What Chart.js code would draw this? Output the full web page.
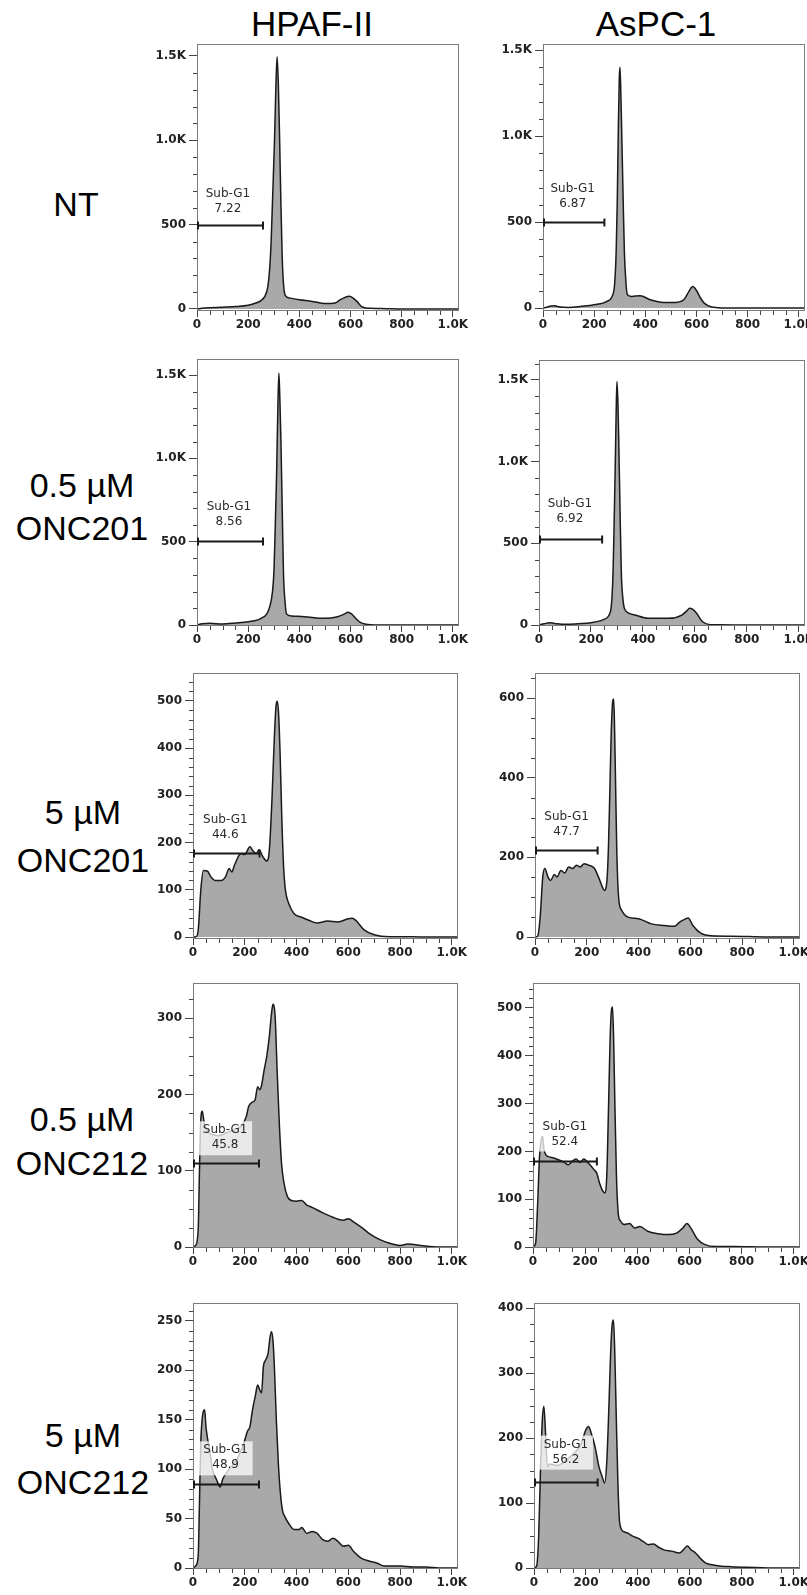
<!DOCTYPE html>
<html>
<head>
<meta charset="utf-8">
<script src="https://cdn.jsdelivr.net/npm/chart.js@4.4.1/dist/chart.umd.min.js"></script>
<style>
  body { margin: 0; background: #fff; }
  #page { position: relative; width: 807px; height: 1595px; overflow: hidden; background: #fff; }
  .head, .row { position: absolute; font-family: "Liberation Sans", Arial, sans-serif; color: #000; line-height: 1; white-space: nowrap; transform: translateX(-50%); }
  .head { font-size: 35px; }
  .row { font-size: 34px; }
  canvas { position: absolute; }
</style>
</head>
<body>
<div id="page">
  <div class="head" style="left:312px; top:6px;">HPAF-II</div>
  <div class="head" style="left:656px; top:6px;">AsPC-1</div>

  <div class="row" style="left:76px; top:187px;">NT</div>
  <div class="row" style="left:82px; top:468px;">0.5 µM</div>
  <div class="row" style="left:82px; top:511px;">ONC201</div>
  <div class="row" style="left:83px; top:795px;">5 µM</div>
  <div class="row" style="left:83px; top:843px;">ONC201</div>
  <div class="row" style="left:82px; top:1102px;">0.5 µM</div>
  <div class="row" style="left:82px; top:1146px;">ONC212</div>
  <div class="row" style="left:83px; top:1418px;">5 µM</div>
  <div class="row" style="left:83px; top:1465px;">ONC212</div>
</div>
<script>
// DNA content histograms (x = PI channel, y = count)
const HPAF_NT_X = [0, 20, 50, 100, 150, 200, 230, 250, 265, 277, 285, 290, 296, 303, 308, 313, 318, 323, 328, 333, 338, 345, 362, 400, 450, 500, 540, 560, 580, 596, 610, 625, 642, 660, 680, 720, 760, 800, 1024];
const HPAF_NT_Y = [0, 5, 8, 10, 14, 22, 35, 50, 75, 134, 260, 410, 680, 1000, 1300, 1496, 1330, 1000, 620, 310, 150, 80, 65, 55, 45, 32, 36, 55, 70, 75, 65, 45, 16, 6, 4, 3, 1, 0, 0];

const ASPC_NT_X = [0, 15, 30, 45, 60, 100, 150, 200, 250, 270, 280, 286, 290, 294, 298, 301, 305, 309, 313, 318, 324, 330, 345, 360, 380, 420, 470, 520, 550, 570, 585, 600, 615, 630, 660, 700, 800, 900, 1024];
const ASPC_NT_Y = [0, 5, 12, 13, 8, 4, 10, 19, 39, 68, 140, 330, 600, 1000, 1330, 1400, 1200, 930, 650, 330, 150, 77, 68, 70, 71, 48, 33, 33, 48, 96, 125, 102, 60, 29, 6, 1, 0, 0, 0];

const HPAF_201_LO_X = [0, 20, 50, 100, 150, 200, 250, 280, 295, 301, 306, 311, 316, 320, 324, 328, 333, 338, 344, 350, 370, 420, 500, 550, 575, 590, 605, 620, 640, 660, 680, 740, 1024];
const HPAF_201_LO_Y = [0, 8, 10, 6, 12, 20, 40, 90, 200, 330, 600, 900, 1300, 1510, 1350, 1110, 700, 310, 140, 66, 54, 50, 40, 50, 65, 76, 65, 40, 14, 5, 2, 0, 0];

const ASPC_201_LO_X = [0, 20, 40, 60, 100, 150, 200, 250, 275, 281, 285, 289, 293, 297, 300, 304, 307, 312, 317, 323, 330, 350, 370, 420, 500, 550, 568, 580, 592, 605, 630, 660, 700, 800, 1024];
const ASPC_201_LO_Y = [0, 8, 14, 10, 4, 8, 14, 35, 82, 170, 316, 600, 930, 1300, 1490, 1350, 1130, 700, 316, 160, 96, 70, 61, 41, 41, 61, 85, 102, 95, 75, 20, 2, 1, 0, 0];

const HPAF_201_HI_X = [0, 10, 20, 30, 40, 55, 70, 85, 110, 125, 140, 150, 160, 185, 200, 220, 230, 245, 255, 270, 285, 295, 305, 315, 321, 326, 331, 337, 343, 350, 357, 370, 390, 420, 450, 480, 520, 560, 600, 615, 630, 660, 700, 760, 800, 900, 1024];
const HPAF_201_HI_Y = [0, 0, 14, 99, 141, 140, 127, 120, 120, 127, 145, 138, 152, 177, 175, 191, 184, 177, 185, 170, 161, 184, 290, 431, 490, 499, 470, 380, 255, 150, 100, 71, 50, 42, 35, 30, 34, 32, 39, 40, 35, 16, 5, 1, 1, 0, 0];

const ASPC_201_HI_X = [0, 10, 20, 30, 38, 50, 60, 75, 85, 100, 115, 130, 145, 160, 175, 190, 210, 230, 245, 260, 268, 278, 284, 289, 294, 298, 301, 304, 307, 311, 316, 323, 335, 360, 400, 450, 500, 540, 560, 580, 592, 610, 640, 680, 760, 900, 1024];
const ASPC_201_HI_Y = [0, 2, 50, 151, 172, 151, 142, 157, 151, 167, 161, 176, 172, 180, 176, 184, 180, 172, 151, 126, 117, 142, 230, 360, 500, 570, 595, 598, 540, 400, 218, 100, 67, 50, 46, 33, 29, 27, 38, 45, 48, 29, 10, 3, 2, 0, 0];

const HPAF_212_LO_X = [0, 10, 20, 25, 30, 36, 40, 45, 55, 70, 100, 130, 160, 190, 206, 215, 230, 240, 250, 258, 265, 275, 285, 295, 303, 309, 313, 318, 325, 333, 342, 352, 365, 380, 400, 420, 440, 460, 500, 540, 580, 600, 620, 650, 680, 720, 760, 800, 830, 880, 950, 1024];
const HPAF_212_LO_Y = [0, 2, 22, 100, 166, 178, 170, 160, 152, 148, 146, 150, 154, 160, 171, 184, 190, 193, 210, 206, 212, 232, 250, 276, 305, 318, 316, 298, 232, 166, 110, 83, 66, 61, 60, 61, 55, 52, 45, 39, 35, 37, 33, 26, 18, 10, 5, 2, 4, 2, 0, 0];

const ASPC_212_LO_X = [0, 10, 18, 25, 32, 37, 42, 50, 60, 80, 100, 120, 135, 150, 165, 180, 195, 210, 225, 235, 245, 255, 265, 275, 283, 290, 296, 301, 305, 309, 314, 320, 327, 335, 350, 370, 390, 410, 440, 480, 520, 550, 575, 590, 605, 630, 660, 700, 770, 900, 1024];
const ASPC_212_LO_Y = [0, 8, 92, 189, 225, 231, 205, 192, 189, 186, 182, 177, 172, 179, 184, 177, 184, 177, 168, 161, 154, 134, 120, 113, 150, 300, 440, 495, 502, 440, 300, 150, 70, 55, 47, 49, 40, 43, 33, 28, 26, 29, 40, 49, 40, 17, 5, 1, 1, 0, 0];

const HPAF_212_HI_X = [0, 10, 20, 25, 30, 38, 45, 50, 55, 65, 75, 90, 105, 115, 140, 170, 195, 210, 220, 230, 240, 250, 258, 265, 272, 280, 290, 298, 303, 309, 315, 322, 330, 338, 346, 355, 370, 390, 410, 420, 440, 460, 480, 500, 520, 540, 560, 580, 600, 620, 650, 680, 710, 740, 800, 850, 900, 950, 1024];
const HPAF_212_HI_Y = [0, 2, 12, 66, 126, 156, 160, 143, 133, 118, 100, 90, 82, 90, 100, 110, 125, 138, 143, 160, 173, 185, 180, 177, 204, 210, 217, 234, 239, 230, 200, 150, 105, 75, 58, 52, 45, 39, 39, 41, 35, 37, 35, 29, 27, 30, 27, 22, 23, 17, 10, 7, 5, 2, 2, 1, 1, 0, 0];

const ASPC_212_HI_X = [0, 10, 18, 25, 32, 38, 45, 52, 60, 90, 120, 150, 180, 200, 210, 220, 235, 250, 262, 272, 280, 288, 295, 301, 306, 311, 317, 323, 330, 345, 360, 380, 400, 420, 440, 460, 480, 500, 530, 560, 575, 590, 605, 620, 640, 660, 700, 760, 850, 940, 1024];
const ASPC_212_HI_Y = [0, 3, 49, 151, 228, 249, 203, 156, 160, 158, 165, 175, 190, 213, 218, 208, 187, 156, 141, 131, 162, 244, 331, 375, 382, 331, 228, 131, 69, 56, 54, 49, 46, 41, 36, 37, 32, 28, 26, 23, 28, 34, 28, 24, 15, 8, 4, 2, 1, 0, 0];

// panel order: row by row, HPAF-II then AsPC-1
const SERIES = [
  [HPAF_NT_X, HPAF_NT_Y], [ASPC_NT_X, ASPC_NT_Y],
  [HPAF_201_LO_X, HPAF_201_LO_Y], [ASPC_201_LO_X, ASPC_201_LO_Y],
  [HPAF_201_HI_X, HPAF_201_HI_Y], [ASPC_201_HI_X, ASPC_201_HI_Y],
  [HPAF_212_LO_X, HPAF_212_LO_Y], [ASPC_212_LO_X, ASPC_212_LO_Y],
  [HPAF_212_HI_X, HPAF_212_HI_Y], [ASPC_212_HI_X, ASPC_212_HI_Y]
];

// Sub-G1 gates
const SUBG1_PCT = ['7.22', '6.87', '8.56', '6.92', '44.6', '47.7', '45.8', '52.4', '48.9', '56.2'];
const GATE_Y = [497, 500, 504, 527, 179, 218, 110, 180, 85, 133];
const GATE_END = [258, 240, 258, 243, 257, 242, 255, 245, 255, 245];
const LABEL_X = [121, 116, 125, 119, 125, 122, 124, 122, 126, 123];
const LABEL_Y = [683, 691, 710, 739, 249, 301, 153, 252, 119, 190];

// axes
const Y_MIN = [-12, -17, -6, -6, -4, -5, -1.3, -2, -1, -1.5];
const Y_MAX = [1571, 1535, 1596, 1622, 559, 663, 346, 552, 268, 408];
const Y_STEP = [500, 500, 500, 500, 100, 200, 100, 100, 50, 100];
const Y_MINOR = [100, 100, 100, 100, 20, 50, 25, 20, 10, 25];
const X_TICKS = [0, 200, 400, 600, 800, 1000];
const X_MINOR = 50;
const X_MAX = 1024;

// plot frames on the page: left, top, right, bottom
const BOXES = [
  [197, 44, 459, 311], [543, 44, 805, 311],
  [197, 359, 459, 626], [539, 360, 805, 626],
  [193, 673, 458, 939], [535, 673, 800, 939],
  [193, 983, 458, 1248], [533, 983, 800, 1248],
  [193, 1303, 458, 1569], [534, 1303, 800, 1569]
];

const Y_AXIS_W = 60, X_AXIS_H = 28, PAD_TOP = 12, PAD_RIGHT = 22;
const tickFont = { family: 'DejaVu Sans', size: 12, weight: 'bold' };
const fmt = v => v >= 1000 ? (v / 1000).toFixed(1) + 'K' : String(v);

const facsPlugin = {
  id: 'facs',
  afterDatasetsDraw(chart, args, opts) {
    const { ctx, chartArea: a, scales: { x, y } } = chart;
    ctx.save();
    // minor ticks
    ctx.strokeStyle = '#444';
    ctx.lineWidth = 1;
    ctx.beginPath();
    for (let v = 0; v <= 1000; v += X_MINOR) {
      if (v % 200) {
        const px = Math.round(x.getPixelForValue(v)) + 0.5;
        ctx.moveTo(px, a.bottom);
        ctx.lineTo(px, a.bottom + 4);
      }
    }
    for (let v = 0; v <= y.max; v += opts.minor) {
      if (v % opts.step) {
        const py = Math.round(y.getPixelForValue(v)) + 0.5;
        ctx.moveTo(a.left - 4, py);
        ctx.lineTo(a.left, py);
      }
    }
    ctx.stroke();

    // frame
    ctx.strokeStyle = '#7a7a7a';
    ctx.strokeRect(Math.round(a.left) + 0.5, Math.round(a.top) + 0.5,
      Math.round(a.right - a.left) - 1, Math.round(a.bottom - a.top) - 1);

    // gate bar
    const gy = Math.round(y.getPixelForValue(opts.gateY)) + 0.5;
    const x0 = x.getPixelForValue(0) + 1;
    const x1 = x.getPixelForValue(opts.gateEnd);
    ctx.strokeStyle = '#1a1a1a';
    ctx.lineWidth = 2;
    ctx.beginPath();
    ctx.moveTo(x0, gy); ctx.lineTo(x1, gy);
    ctx.moveTo(x0, gy - 4); ctx.lineTo(x0, gy + 4);
    ctx.moveTo(x1, gy - 4); ctx.lineTo(x1, gy + 4);
    ctx.stroke();

    // gate label
    const lx = x.getPixelForValue(opts.labelX);
    const ly = y.getPixelForValue(opts.labelY);
    ctx.fillStyle = 'rgba(255,255,255,0.75)';
    ctx.fillRect(lx - 27, ly - 9, 54, 34);
    ctx.fillStyle = '#2a2a2a';
    ctx.font = '12px "DejaVu Sans"';
    ctx.textAlign = 'center';
    ctx.textBaseline = 'middle';
    ctx.fillText('Sub-G1', lx, ly);
    ctx.fillText(opts.pct, lx, ly + 15);
    ctx.restore();
  }
};

const page = document.getElementById('page');

BOXES.forEach((b, i) => {
  const [xs, ys] = SERIES[i];
  const w = (b[2] - b[0]) + Y_AXIS_W + PAD_RIGHT;
  const h = (b[3] - b[1]) + PAD_TOP + X_AXIS_H;
  const canvas = document.createElement('canvas');
  canvas.width = w;
  canvas.height = h;
  canvas.style.left = (b[0] - Y_AXIS_W) + 'px';
  canvas.style.top = (b[1] - PAD_TOP) + 'px';
  canvas.style.width = w + 'px';
  canvas.style.height = h + 'px';
  page.appendChild(canvas);

  new Chart(canvas, {
    type: 'line',
    data: {
      datasets: [{
        data: xs.map((v, k) => ({ x: v, y: ys[k] })),
        borderColor: '#1a1a1a',
        borderWidth: 1.5,
        backgroundColor: '#a9a9a9',
        fill: 'origin',
        pointRadius: 0,
        cubicInterpolationMode: 'monotone'
      }]
    },
    options: {
      responsive: false,
      animation: false,
      layout: { padding: { top: PAD_TOP, right: PAD_RIGHT, left: 0, bottom: 0 } },
      plugins: {
        legend: { display: false },
        tooltip: { enabled: false },
        facs: {
          step: Y_STEP[i], minor: Y_MINOR[i],
          gateY: GATE_Y[i], gateEnd: GATE_END[i],
          labelX: LABEL_X[i], labelY: LABEL_Y[i], pct: SUBG1_PCT[i]
        }
      },
      scales: {
        x: {
          type: 'linear', min: 0, max: X_MAX,
          afterBuildTicks: s => { s.ticks = X_TICKS.map(v => ({ value: v })); },
          afterFit: s => { s.height = X_AXIS_H; },
          ticks: { callback: fmt, font: tickFont, color: '#222', padding: 1, maxRotation: 0, autoSkip: false },
          grid: { drawOnChartArea: false, drawTicks: true, tickLength: 6, color: '#444' },
          border: { display: false }
        },
        y: {
          min: Y_MIN[i], max: Y_MAX[i],
          afterBuildTicks: s => {
            const t = [];
            for (let v = 0; v <= Y_MAX[i]; v += Y_STEP[i]) t.push({ value: v });
            s.ticks = t;
          },
          afterFit: s => { s.width = Y_AXIS_W; },
          ticks: { callback: fmt, font: tickFont, color: '#222', padding: 3, autoSkip: false },
          grid: { drawOnChartArea: false, drawTicks: true, tickLength: 8, color: '#444' },
          border: { display: false }
        }
      }
    },
    plugins: [facsPlugin]
  });
});
</script>
</body>
</html>
